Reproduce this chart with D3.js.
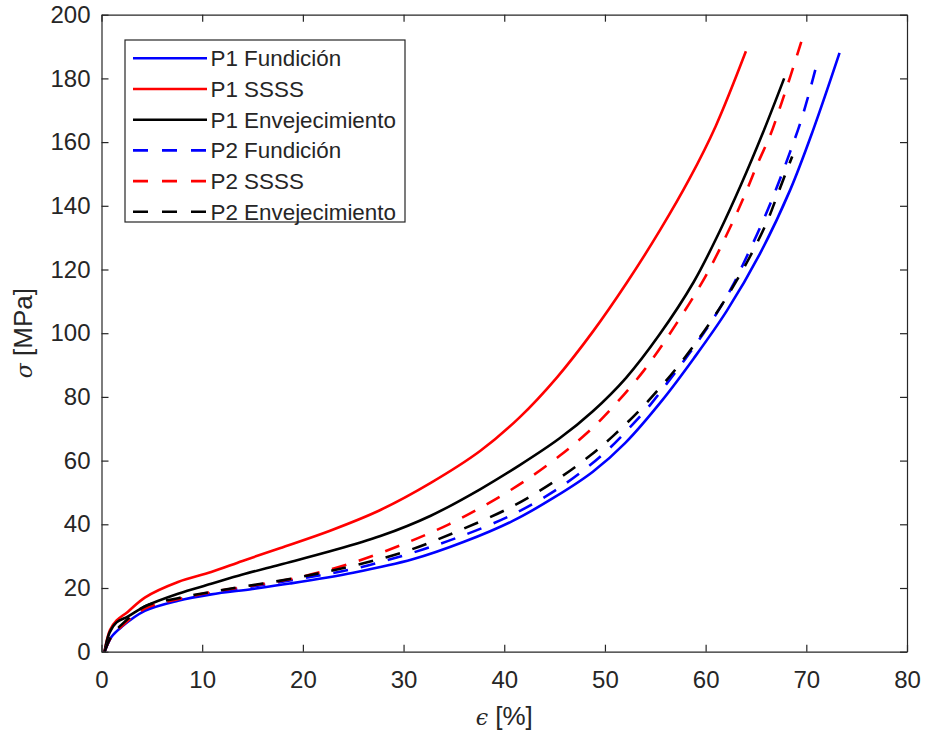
<!DOCTYPE html>
<html>
<head>
<meta charset="utf-8">
<script src="https://cdn.jsdelivr.net/npm/d3@7"></script>
<style>
  html, body { margin: 0; padding: 0; background: #fff; }
  svg { display: block; }
  text { font-family: "Liberation Sans", Arial, Helvetica, sans-serif; fill: #262626; }
</style>
</head>
<body>
<svg id="chart" width="925" height="736"></svg>
<script>
// ---------------- DATA ----------------
const seriesNames = ["P1 Fundición", "P1 SSSS", "P1 Envejecimiento", "P2 Fundición", "P2 SSSS", "P2 Envejecimiento"];
const seriesColors = ["#0000ff", "#ff0000", "#000000", "#0000ff", "#ff0000", "#000000"];
const seriesDashed = [false, false, false, true, true, true];

const xTicks = [0, 10, 20, 30, 40, 50, 60, 70, 80];
const yTicks = [0, 20, 40, 60, 80, 100, 120, 140, 160, 180, 200];

// P1 Fundición
const p1FundX = [0.3, 1, 2, 4.3, 7.6, 10.9, 15, 18.7, 25, 30.9, 36, 40.8, 45, 48.8, 52, 55.7, 58.8, 62.1, 65.4, 68.4, 70.7, 73.3];
const p1FundY = [0, 4.7, 7.8, 12.8, 16, 18, 19.7, 21.4, 24.8, 29, 34.5, 41, 48.5, 56.5, 65.5, 79, 92, 107, 125, 145, 164, 188];
// P1 SSSS
const p1SsssX = [0.3, 0.84, 1.5, 2.6, 4.3, 7.6, 10.9, 14, 17.7, 22.7, 27.7, 32.7, 37.6, 41.5, 45.2, 48.8, 52.2, 55.5, 58.4, 61, 64];
const p1SsssY = [0, 6.8, 9.8, 12.5, 17, 21.9, 25, 28.5, 32.5, 38, 44.5, 53, 63, 73.5, 86, 100.5, 116, 132.5, 148.5, 165, 188.5];
// P1 Envejecimiento
const p1EnvX = [0.3, 0.8, 1.5, 2.6, 4.3, 7.6, 10.9, 14, 17.7, 22.7, 27.7, 32.7, 37.6, 41.5, 45.5, 48.8, 52.1, 55.4, 58.8, 61.4, 63.5, 65.7, 67.8];
const p1EnvY = [0, 6, 9.2, 11, 14.2, 18.2, 21.3, 24.2, 27.3, 31.5, 36.3, 42.7, 51, 58.5, 67, 75.5, 86, 99.5, 116, 132, 146.5, 163, 180];
// P2 Fundición
const p2FundX = [0.3, 1, 2, 4.3, 7.6, 10.9, 19, 25, 30.3, 35.5, 40.8, 45, 48.1, 50.5, 52.5, 54.5, 56.1, 58, 59.8, 61.4, 62.7, 63.7, 65.1, 66.4, 67.4, 68.4, 69.4, 70.2, 71];
const p2FundY = [0, 4.8, 8, 13.2, 16.3, 18.4, 22.5, 26, 30.5, 36, 43, 50.5, 57.5, 64, 70.5, 77.5, 84, 92, 100, 107.8, 115, 121.5, 131, 140.5, 148.5, 157, 166, 174.5, 184];
// P2 SSSS
const p2SsssX = [0.3, 1, 2, 4.3, 7.6, 10.9, 19.4, 25, 30.3, 34.5, 38.2, 42, 45.5, 47.8, 49.8, 53.8, 57.1, 60.1, 62.7, 64.1, 65.2, 66.4, 67.4, 68.4, 69.5];
const p2SsssY = [0, 4.8, 8, 13.5, 16.5, 18.7, 23.2, 28, 34.2, 40, 46.2, 53.5, 61.5, 67.5, 73.5, 88, 103, 118.5, 135, 145, 153.5, 162, 171, 180.5, 191.5];
// P2 Envejecimiento
const p2EnvX = [0.3, 1, 2, 4.3, 7.6, 10.9, 19, 25, 30.3, 35.5, 40.8, 45, 48.5, 50.9, 53.5, 55.5, 57.1, 58.8, 60.8, 62.7, 64.4, 66.1, 67.2, 68.6];
const p2EnvY = [0, 5, 8.5, 14.2, 16.8, 18.8, 23, 27, 31.6, 38, 45.6, 53.5, 61.5, 68, 76, 83, 89, 96, 105, 114.5, 124, 135, 144, 155.5];

const seriesX = [p1FundX, p1SsssX, p1EnvX, p2FundX, p2SsssX, p2EnvX];
const seriesY = [p1FundY, p1SsssY, p1EnvY, p2FundY, p2SsssY, p2EnvY];

// ---------------- LAYOUT ----------------
const plot = { left: 101.5, right: 907, top: 14.7, bottom: 651.7 };
const axisColor = "#262626";
const tickFont = 24;
const legendFont = 22.4;
const labelFont = 26;

const svg = d3.select("#chart");

const x = d3.scaleLinear().domain([0, 80]).range([plot.left, plot.right]);
const y = d3.scaleLinear().domain([0, 200]).range([plot.bottom, plot.top]);

svg.append("rect")
  .attr("x", plot.left).attr("y", plot.top)
  .attr("width", plot.right - plot.left).attr("height", plot.bottom - plot.top)
  .attr("fill", "#fff");

// ---------------- CURVES ----------------
const line = d3.line()
  .x(d => x(d[0]))
  .y(d => y(d[1]))
  .curve(d3.curveCatmullRom.alpha(0.5));

const gLines = svg.append("g");
seriesNames.forEach((name, i) => {
  const pts = seriesX[i].map((v, j) => [v, seriesY[i][j]]);
  gLines.append("path")
    .datum(pts)
    .attr("d", line)
    .attr("fill", "none")
    .attr("stroke", seriesColors[i])
    .attr("stroke-width", 2.6)
    .attr("stroke-linejoin", "round")
    .attr("stroke-dasharray", seriesDashed[i] ? "15,13" : null);
});

// ---------------- AXES ----------------
function styleAxis(g) {
  g.selectAll(".domain").attr("stroke", axisColor).attr("stroke-width", 1.2);
  g.selectAll(".tick line").attr("stroke", axisColor).attr("stroke-width", 1.2);
  g.selectAll(".tick text")
    .attr("fill", axisColor)
    .style("font-family", "'Liberation Sans', Arial, Helvetica, sans-serif")
    .style("font-size", tickFont + "px");
}

svg.append("g")
  .attr("transform", `translate(0,${plot.bottom})`)
  .call(d3.axisBottom(x).tickValues(xTicks).tickSize(-7).tickSizeOuter(0).tickPadding(19.5))
  .call(styleAxis);

svg.append("g")
  .attr("transform", `translate(0,${plot.top})`)
  .call(d3.axisTop(x).tickValues(xTicks).tickSize(-7).tickSizeOuter(0).tickFormat(""))
  .call(styleAxis);

svg.append("g")
  .attr("transform", `translate(${plot.left},0)`)
  .call(d3.axisLeft(y).tickValues(yTicks).tickSize(-7).tickSizeOuter(0).tickPadding(11))
  .call(styleAxis);

svg.append("g")
  .attr("transform", `translate(${plot.right},0)`)
  .call(d3.axisRight(y).tickValues(yTicks).tickSize(-7).tickSizeOuter(0).tickFormat(""))
  .call(styleAxis);

// ---------------- AXIS LABELS ----------------
const xl = svg.append("text")
  .attr("x", (plot.left + plot.right) / 2)
  .attr("y", 724.5)
  .attr("text-anchor", "middle")
  .style("font-size", labelFont + "px");
xl.append("tspan").text("ϵ").style("font-family", "'DejaVu Serif', 'Liberation Serif', serif").style("font-style", "italic").style("font-size", (labelFont * 0.85) + "px");
xl.append("tspan").text(" [%]");

const yl = svg.append("text")
  .attr("transform", `translate(32,${(plot.top + plot.bottom) / 2}) rotate(-90)`)
  .attr("text-anchor", "middle")
  .style("font-size", labelFont + "px");
yl.append("tspan").text("σ").style("font-family", "'DejaVu Serif', 'Liberation Serif', serif").style("font-style", "italic").style("font-size", (labelFont * 0.85) + "px");
yl.append("tspan").text(" [MPa]");

// ---------------- LEGEND ----------------
const legend = { x: 125, y: 40, w: 280, h: 182, row0: 58.3, rowStep: 30.7, lineX1: 133, lineX2: 207, textX: 210.5 };
const gLeg = svg.append("g");
gLeg.append("rect")
  .attr("x", legend.x).attr("y", legend.y)
  .attr("width", legend.w).attr("height", legend.h)
  .attr("fill", "#fff")
  .attr("stroke", axisColor)
  .attr("stroke-width", 1.2);

seriesNames.forEach((name, i) => {
  const ry = legend.row0 + i * legend.rowStep;
  gLeg.append("line")
    .attr("x1", legend.lineX1).attr("x2", legend.lineX2)
    .attr("y1", ry).attr("y2", ry)
    .attr("stroke", seriesColors[i])
    .attr("stroke-width", 2.6)
    .attr("stroke-dasharray", seriesDashed[i] ? "15,14" : null);
  gLeg.append("text")
    .attr("x", legend.textX)
    .attr("y", ry + legendFont * 0.36)
    .style("font-size", legendFont + "px")
    .attr("fill", axisColor)
    .text(name);
});
</script>
</body>
</html>
